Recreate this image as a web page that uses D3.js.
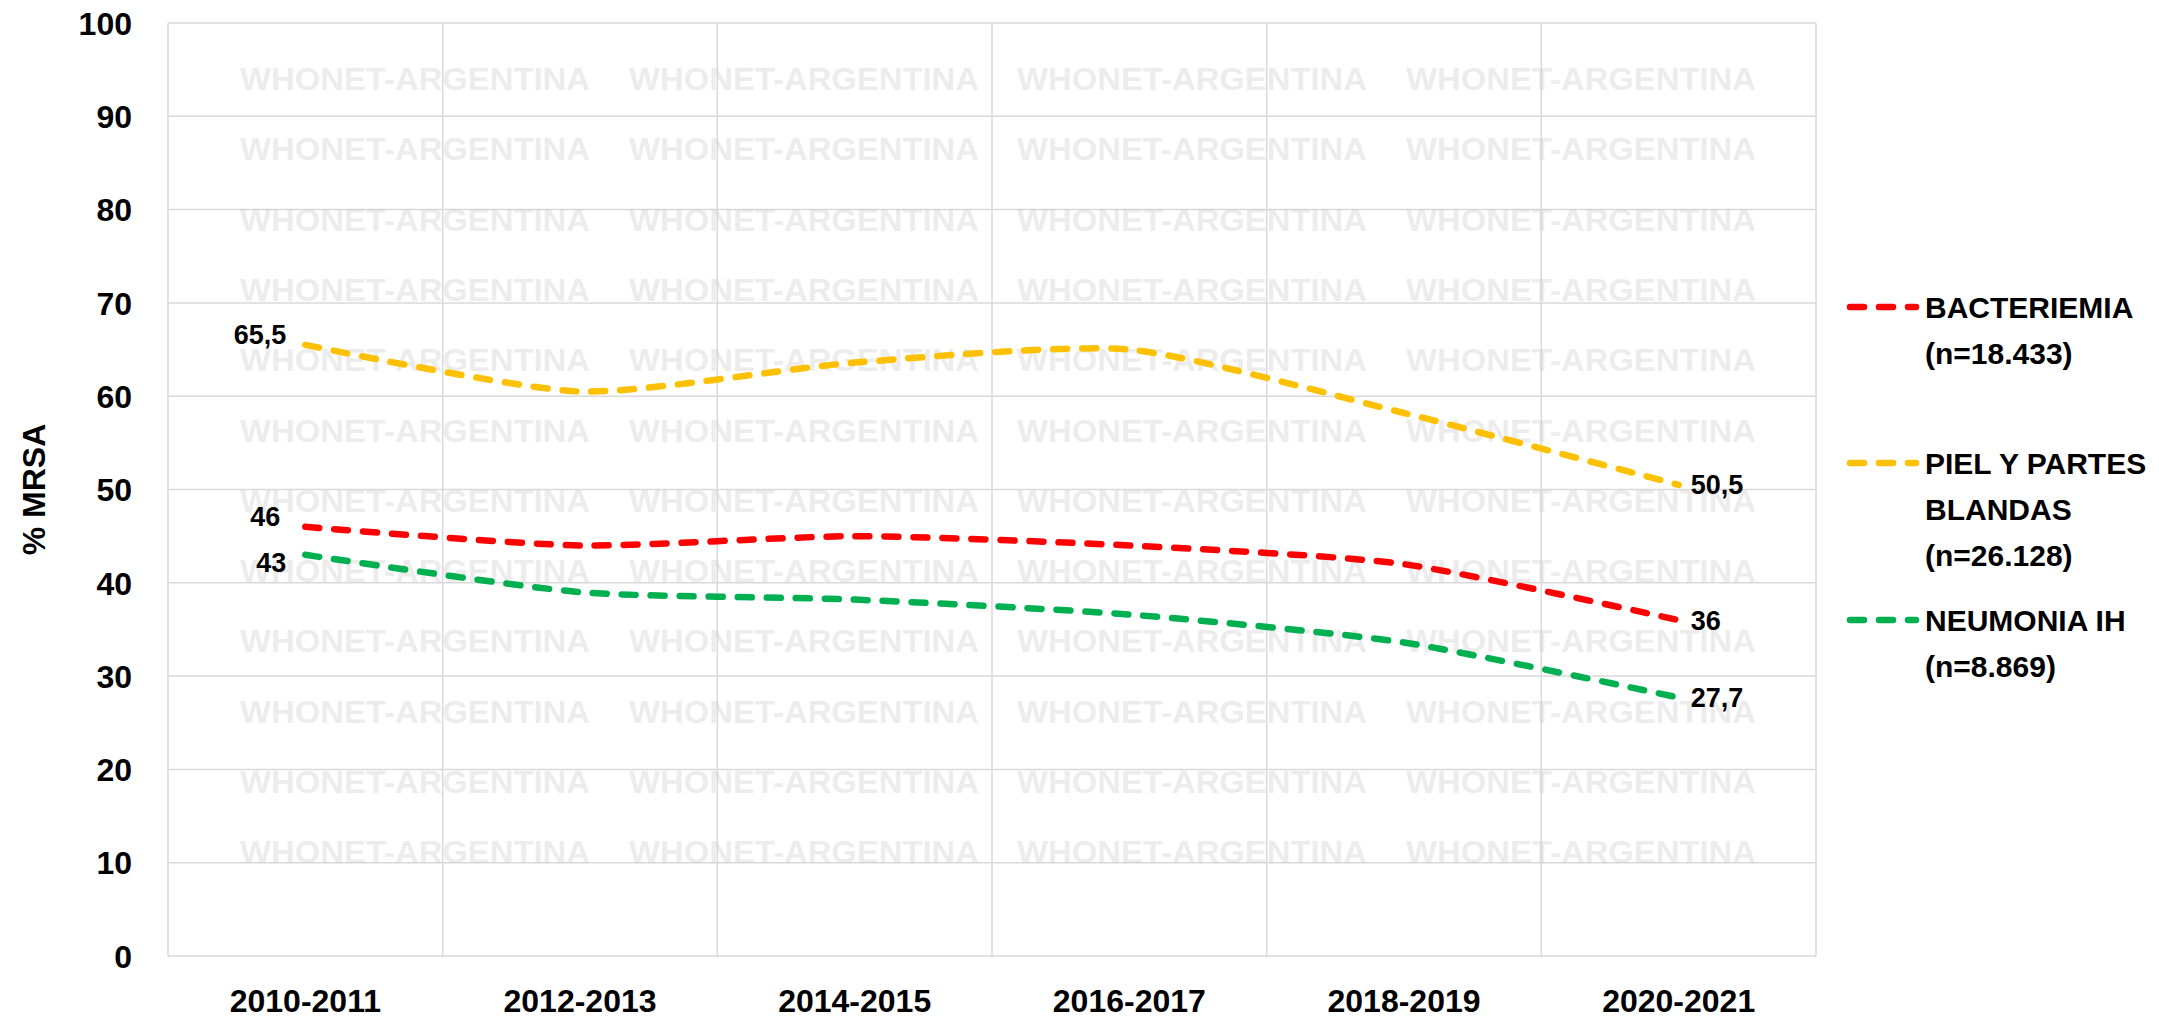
<!DOCTYPE html>
<html><head><meta charset="utf-8">
<script src="https://cdn.jsdelivr.net/npm/d3@7"></script>
<style>html,body{margin:0;padding:0;background:#fff}svg{display:block}</style>
</head><body>
<svg id="chart" width="2159" height="1018"></svg>
<script>
const categories = ["2010-2011","2012-2013","2014-2015","2016-2017","2018-2019","2020-2021"];
const bacteriemia = [46, 44, 45, 44, 42, 36];
const piel = [65.5, 60.5, 63.6, 65, 58.2, 50.5];
const neumonia = [43, 39, 38.2, 36.6, 33.6, 27.7];
const seriesNames = ["BACTERIEMIA (n=18.433)", "PIEL Y PARTES BLANDAS (n=26.128)", "NEUMONIA IH (n=8.869)"];
const legendLines = [["BACTERIEMIA","(n=18.433)"],["PIEL Y PARTES","BLANDAS","(n=26.128)"],["NEUMONIA IH","(n=8.869)"]];
const seriesColors = ["#FF0000","#FFC000","#00B050"];
const yTicks = [0,10,20,30,40,50,60,70,80,90,100];
const yTitle = "% MRSA";
const watermark = "WHONET-ARGENTINA";

const FONT = "'Liberation Sans', Arial, sans-serif";
const svg = d3.select("#chart");
const L = 168, R = 1816, T = 23, B = 956;

const xb = d3.scaleBand().domain(categories).range([L, R]).padding(0);
const xc = c => xb(c) + xb.bandwidth() / 2;
const y = d3.scaleLinear().domain([0, 100]).range([B, T]);

svg.append("rect").attr("width", 2159).attr("height", 1018).attr("fill", "#fff");

// gridlines
const grid = svg.append("g");
grid.selectAll("line.h").data(yTicks).join("line")
  .attr("x1", L).attr("x2", R).attr("y1", d => y(d)).attr("y2", d => y(d))
  .attr("stroke", "#d9d9d9").attr("stroke-width", 1.5);
const vEdges = categories.map(c => xb(c)).concat([R]);
grid.selectAll("line.v").data(vEdges).join("line")
  .attr("x1", d => d).attr("x2", d => d).attr("y1", T).attr("y2", B)
  .attr("stroke", "#d9d9d9").attr("stroke-width", 1.5);

// watermark
const wmCols = [240, 629, 1017, 1406];
const wmRows = d3.range(12).map(k => 79 + 70.3 * k);
const wm = svg.append("g");
wmRows.forEach(ry => wmCols.forEach(cx => {
  wm.append("text").attr("x", cx).attr("y", ry + 11)
    .attr("font-family", FONT).attr("font-weight", "bold").attr("font-size", 32)
    .attr("textLength", 350).attr("lengthAdjust", "spacingAndGlyphs")
    .attr("fill", "#c8c8c8").attr("fill-opacity", 0.35).text(watermark);
}));

// y axis labels
const yAxis = d3.axisLeft(y).tickValues(yTicks).tickSize(0).tickPadding(0);
const ya = svg.append("g").attr("transform", `translate(132,0)`).call(yAxis);
ya.select(".domain").remove();
ya.selectAll("text").attr("font-family", FONT).attr("font-weight", "bold")
  .attr("font-size", 32).attr("fill", "#000").attr("dy", "0.35em");

// x axis labels
const xAxis = d3.axisBottom(xb).tickSize(0).tickPadding(0);
const xa = svg.append("g").attr("transform", `translate(0,0)`).call(xAxis);
xa.select(".domain").remove();
xa.selectAll("text").attr("font-family", FONT).attr("font-weight", "bold")
  .attr("font-size", 32).attr("fill", "#000").attr("y", 1012).attr("dy", 0);

// y title
svg.append("text").attr("transform", `translate(45,${(T + B) / 2}) rotate(-90)`)
  .attr("text-anchor", "middle").attr("font-family", FONT).attr("font-weight", "bold")
  .attr("font-size", 32).attr("fill", "#000").text(yTitle);

// lines
const allSeries = [bacteriemia, piel, neumonia];
const line = d3.line().x((d, i) => xc(categories[i])).y(d => y(d)).curve(d3.curveCardinal.tension(0.35));
allSeries.forEach((s, k) => {
  svg.append("path").attr("d", line(s)).attr("fill", "none")
    .attr("stroke", seriesColors[k]).attr("stroke-width", 6.5)
    .attr("stroke-linecap", "round").attr("stroke-dasharray", "14 15");
});

// data labels (first and last)
const fmt = v => String(v).replace(".", ",");
const firstDy = [-10, -10, 8];   // vertical offset of first label center from point
const firstDx = [-25, -19, -19];
allSeries.forEach((s, k) => {
  const x0 = xc(categories[0]), xN = xc(categories[categories.length - 1]);
  svg.append("text").attr("x", x0 + firstDx[k]).attr("y", y(s[0]) + firstDy[k]).attr("dy", "0.35em")
    .attr("text-anchor", "end").attr("font-family", FONT).attr("font-weight", "bold")
    .attr("font-size", 27).attr("fill", "#000").text(fmt(s[0]));
  svg.append("text").attr("x", xN + 12).attr("y", y(s[s.length - 1])).attr("dy", "0.35em")
    .attr("text-anchor", "start").attr("font-family", FONT).attr("font-weight", "bold")
    .attr("font-size", 27).attr("fill", "#000").text(fmt(s[s.length - 1]));
});

// legend
const legY = [307, 463, 620];
legendLines.forEach((lines, k) => {
  const g = svg.append("g");
  g.append("line").attr("x1", 1850).attr("x2", 1916).attr("y1", legY[k]).attr("y2", legY[k])
    .attr("stroke", seriesColors[k]).attr("stroke-width", 6.5)
    .attr("stroke-linecap", "round").attr("stroke-dasharray", "14 15");
  lines.forEach((t, j) => {
    g.append("text").attr("x", 1925).attr("y", legY[k] + j * 46).attr("dy", "0.35em")
      .attr("font-family", FONT).attr("font-weight", "bold").attr("font-size", 30)
      .attr("fill", "#000").text(t);
  });
});
</script>
</body></html>
